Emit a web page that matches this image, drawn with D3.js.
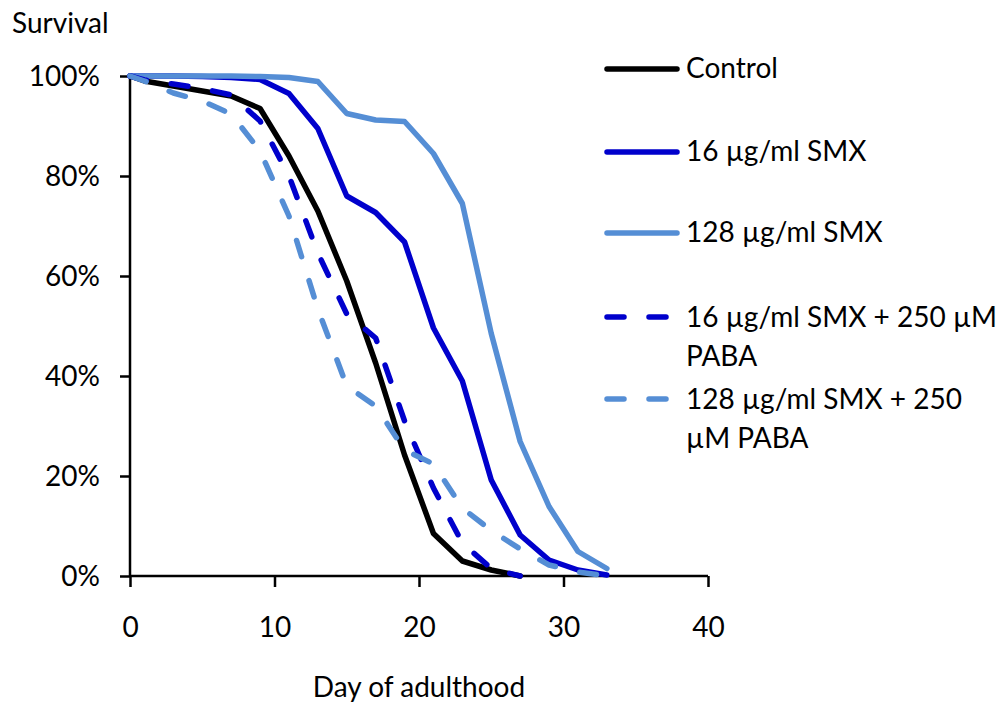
<!DOCTYPE html>
<html>
<head>
<meta charset="utf-8">
<script src="https://cdn.jsdelivr.net/npm/d3@7"></script>
<style>
  html, body { margin: 0; padding: 0; background: #fff; }
  svg text { font-family: Lato, "Open Sans", sans-serif; fill: #000; }
</style>
</head>
<body>
<svg id="chart" width="1003" height="704"></svg>
<script>
// ---- data ----
const days = [0, 1, 3, 5, 7, 9, 11, 13, 15, 17, 19, 21, 23, 25, 27, 29, 31, 33];
const control    = [100, 99, 98, 97, 96, 93.5, 84, 73, 59, 42.6, 24.2, 8.5, 3, 1.2, 0, null, null, null];
const smx16      = [100, 100, 100, 99.9, 99.7, 99.3, 96.5, 89.5, 76, 72.7, 66.8, 49.6, 39, 19.2, 8.2, 3.2, 1.2, 0.2];
const smx128     = [100, 100, 100, 100, 100, 99.9, 99.7, 98.9, 92.5, 91.2, 90.9, 84.5, 74.5, 48.5, 26.9, 13.9, 4.9, 1.5];
const smx16paba  = [100, 99.2, 98.4, 97.5, 96.2, 91, 80, 64.6, 52.4, 47.6, 31, 17.6, 6.6, 1.5, 0, null, null, null];
const smx128paba = [100, 99, 96.6, 95, 92.4, 85, 72, 53.4, 38, 34, 25.2, 22.4, 13.6, 9.1, 5.4, 2.2, 0.8, 0];

const seriesNames = ["Control", "16 µg/ml SMX", "128 µg/ml SMX", "16 µg/ml SMX + 250 µM PABA", "128 µg/ml SMX + 250 µM PABA"];
const legendLines = [["Control"], ["16 µg/ml SMX"], ["128 µg/ml SMX"], ["16 µg/ml SMX + 250 µM", "PABA"], ["128 µg/ml SMX + 250", "µM PABA"]];
const xTicks = [0, 10, 20, 30, 40];
const yTicks = [0, 20, 40, 60, 80, 100];
const xTitle = "Day of adulthood";
const yTitle = "Survival";

// ---- styles ----
const colors = ["#000000", "#0000CC", "#558ED5", "#0000CC", "#558ED5"];
const dashed = [false, false, false, true, true];
const allValues = [control, smx16, smx128, smx16paba, smx128paba];

const svg = d3.select("#chart");
const FS = 28;

const x = d3.scaleLinear().domain([0, 40]).range([130, 708]);
const y = d3.scaleLinear().domain([0, 100]).range([576, 76]);

// axes
const xAxis = d3.axisBottom(x).tickValues(xTicks).tickSize(11).tickFormat(d3.format("d"));
const gx = svg.append("g").attr("transform", "translate(0,576)").call(xAxis);
gx.select(".domain").attr("stroke", "#000").attr("stroke-width", 2.5);
gx.selectAll(".tick line").attr("stroke", "#000").attr("stroke-width", 2.5);
gx.selectAll(".tick text").attr("font-size", FS).attr("font-family", "Lato").attr("dy", null).attr("y", 61);

const yAxis = d3.axisLeft(y).tickValues(yTicks).tickSize(10).tickFormat(d => d + "%");
const gy = svg.append("g").attr("transform", "translate(130,0)").call(yAxis);
gy.select(".domain").attr("stroke", "#000").attr("stroke-width", 2.5);
gy.selectAll(".tick line").attr("stroke", "#000").attr("stroke-width", 2.5);
gy.selectAll(".tick text").attr("font-size", FS).attr("font-family", "Lato").attr("dy", "0.35em").attr("x", -30);

// remove domain end-caps overshoot: redraw cleanly
gx.select(".domain").attr("d", `M${x(0)},0H${x(40)}`);
gy.select(".domain").attr("d", `M0,${y(0)}V${y(100)}`);

// titles
svg.append("text").attr("x", 12).attr("y", 33).attr("font-size", FS).text(yTitle);
svg.append("text").attr("x", x(20) - 0).attr("y", 697).attr("text-anchor", "middle").attr("font-size", FS).text(xTitle);

// lines
const line = d3.line()
  .defined(d => d[1] !== null)
  .x(d => x(d[0]))
  .y(d => y(d[1]));

const order = [0, 1, 2, 3, 4];
order.forEach(i => {
  const pts = days.map((d, k) => [d, allValues[i][k]]);
  svg.append("path")
    .datum(pts)
    .attr("d", line)
    .attr("fill", "none")
    .attr("stroke", colors[i])
    .attr("stroke-width", 5.5)
    .attr("stroke-linejoin", "round")
    .attr("stroke-linecap", "round")
    .attr("stroke-dasharray", dashed[i] ? "17 25" : null);
});

// legend
const legendY = [69, 152, 233, 317, 399];
legendLines.forEach((lines, i) => {
  const g = svg.append("g");
  g.append("line")
    .attr("x1", 607).attr("x2", 677)
    .attr("y1", legendY[i]).attr("y2", legendY[i])
    .attr("stroke", colors[i])
    .attr("stroke-width", 5.5)
    .attr("stroke-linecap", "round")
    .attr("stroke-dasharray", dashed[i] ? "17 25" : null);
  const base = lines.length === 1 ? legendY[i] + 9 : legendY[i] + 9.5;
  lines.forEach((t, j) => {
    g.append("text")
      .attr("x", 686)
      .attr("y", base + j * 39.5)
      .attr("font-size", FS)
      .text(t);
  });
});
</script>
</body>
</html>
